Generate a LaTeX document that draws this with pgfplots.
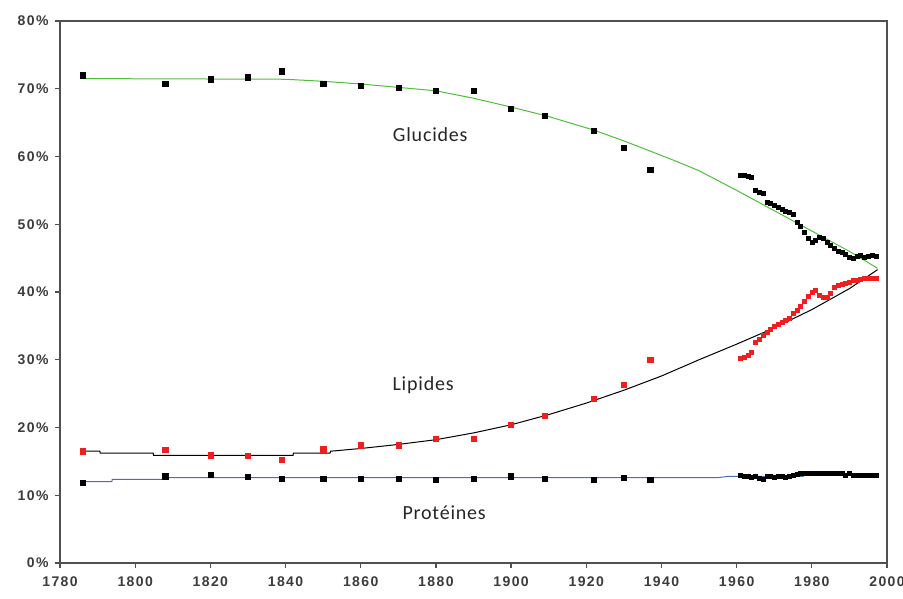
\documentclass[border=0pt]{standalone}
\usepackage{pgfplots}
\pgfplotsset{compat=1.18}
\usepackage{fontspec}
\setmainfont{Liberation Sans}
\newfontfamily\tickfont[LetterSpace=10]{Liberation Sans}
\newfontfamily\labfont[LetterSpace=4]{Carlito}
\definecolor{gluc}{RGB}{80,190,60}
\definecolor{prot}{RGB}{70,110,190}
\definecolor{lipm}{RGB}{240,30,30}
\definecolor{axgray}{RGB}{80,80,80}
\definecolor{tickgray}{RGB}{60,60,60}

\pgfplotstableread{
x y
1786 72.0
1808 70.8
1820 71.4
1830 71.7
1839 72.6
1850 70.8
1860 70.4
1870 70.1
1880 69.7
1890 69.7
1900 67.0
1909 66.0
1922 63.8
1930 61.3
1937 58.0
}\glucold
\pgfplotstableread{
x y
1961 57.3
1962 57.3
1963 57.1
1964 57.0
1965 55.0
1966 54.8
1967 54.6
1968 53.3
1969 53.1
1970 52.8
1971 52.5
1972 52.2
1973 51.9
1974 51.8
1975 51.5
1976 50.3
1977 49.7
1978 48.9
1979 48.0
1980 47.4
1981 47.6
1982 48.1
1983 47.9
1984 47.4
1985 46.9
1986 46.5
1987 46.0
1988 45.9
1989 45.6
1990 45.2
1991 45.0
1992 45.3
1993 45.4
1994 45.2
1995 45.3
1996 45.4
1997 45.3
}\glucnew

\pgfplotstableread{
x y
1786 16.5
1808 16.7
1820 15.9
1830 15.8
1839 15.2
1850 16.8
1860 17.4
1870 17.4
1880 18.4
1890 18.3
1900 20.4
1909 21.8
1922 24.2
1930 26.3
1937 30.0
}\lipold
\pgfplotstableread{
x y
1961 30.2
1962 30.4
1963 30.7
1964 31.1
1965 32.6
1966 33.1
1967 33.6
1968 34.1
1969 34.5
1970 34.9
1971 35.2
1972 35.5
1973 35.8
1974 36.2
1975 36.8
1976 37.3
1977 37.9
1978 38.6
1979 39.4
1980 40.0
1981 40.2
1982 39.6
1983 39.2
1984 39.3
1985 39.8
1986 40.7
1987 41.0
1988 41.2
1989 41.3
1990 41.5
1991 41.7
1992 41.8
1993 41.9
1994 42.0
1995 42.0
1996 42.0
1997 42.0
}\lipnew

\pgfplotstableread{
x y
1786 11.8
1808 12.8
1820 13.0
1830 12.7
1839 12.5
1850 12.5
1860 12.4
1870 12.4
1880 12.3
1890 12.4
1900 12.8
1909 12.4
1922 12.3
1930 12.6
1937 12.3
}\protold
\pgfplotstableread{
x y
1961 12.9
1962 12.8
1963 12.8
1964 12.7
1965 12.8
1966 12.5
1967 12.4
1968 12.8
1969 12.8
1970 12.7
1971 12.8
1972 12.8
1973 12.7
1974 12.8
1975 12.9
1976 13.1
1977 13.3
1978 13.3
1979 13.3
1980 13.3
1981 13.3
1982 13.3
1983 13.2
1984 13.3
1985 13.3
1986 13.2
1987 13.3
1988 13.2
1989 13.0
1990 13.2
1991 13.0
1992 13.0
1993 12.9
1994 12.9
1995 13.0
1996 12.9
1997 13.0
}\protnew

\pgfplotstableread{
x y
1786 71.5
1840 71.4
1850 71.1
1860 70.7
1870 70.2
1880 69.7
1890 68.6
1900 67.3
1910 65.9
1922 63.9
1930 62.3
1943 59.5
1950 57.9
1960 55.0
1970 52.0
1980 49.0
1990 46.0
1997.5 43.5
}\gluclin

\pgfplotstableread{
x y
1786 16.5
1790.6 16.5
1790.7 16.2
1804.8 16.2
1804.9 15.9
1842 15.9
1842.1 16.2
1851.8 16.2
1852 16.5
1860 16.9
1870 17.5
1880 18.2
1890 19.2
1900 20.4
1910 21.9
1920 23.6
1930 25.5
1940 27.6
1950 30.0
1960 32.3
1970 34.7
1980 37.4
1990 40.5
1997.5 43.3
}\liplin

\pgfplotstableread{
x y
1786 12.0
1793.8 12.0
1793.9 12.35
1807.4 12.35
1807.5 12.6
1955 12.6
1958 12.8
1977.7 12.8
1978 13.05
1997.5 13.05
}\protlin

\begin{document}
\begin{tikzpicture}
\path[use as bounding box] (-60pt,-36pt) rectangle (843pt,563pt);
\begin{axis}[
  at={(0pt,0pt)}, anchor=south west,
  scale only axis, width=827pt, height=542pt,
  xmin=1780, xmax=2000, ymin=0, ymax=80,
  xtick={1780,1800,...,2000},
  ytick={0,10,...,80},
  axis line style={axgray, line width=1.2pt},
  tick style={axgray, line width=1.2pt},
  tick align=outside, major tick length=5pt,
  xtick pos=bottom, ytick pos=left,
  /pgf/number format/1000 sep={},
  /pgf/number format/assume math mode=true,
  yticklabel={\pgfmathprintnumber{\tick}\%},
  ticklabel style={font=\tickfont\bfseries\fontsize{14}{16}\selectfont, text=tickgray},
  xticklabel style={yshift=-5pt},
  yticklabel style={xshift=-3pt},
  clip=false,
]
\addplot[gluc, line width=1pt] table {\gluclin};
\addplot[black, line width=1pt] table {\liplin};
\addplot[prot, line width=1pt] table {\protlin};
\addplot[only marks, mark=square*, mark size=2.6pt, mark options={black, fill=black}] table {\glucold};
\addplot[only marks, mark=square*, mark size=2pt, mark options={black, fill=black}] table {\glucnew};
\addplot[only marks, mark=square*, mark size=2.6pt, mark options={lipm, fill=lipm}] table {\lipold};
\addplot[only marks, mark=square*, mark size=2pt, mark options={lipm, fill=lipm}] table {\lipnew};
\addplot[only marks, mark=square*, mark size=2.6pt, mark options={black, fill=black}] table {\protold};
\addplot[only marks, mark=square*, mark size=2pt, mark options={black, fill=black}] table {\protnew};
\node[font=\labfont\fontsize{20}{22}\selectfont, text=black!85] at (axis cs:1878.5,63.2) {Glucides};
\node[font=\labfont\fontsize{20}{22}\selectfont, text=black!85] at (axis cs:1876.6,26.3) {Lipides};
\node[font=\labfont\fontsize{20}{22}\selectfont, text=black!85] at (axis cs:1882.2,7.4) {Protéines};
\end{axis}
\end{tikzpicture}
\end{document}
